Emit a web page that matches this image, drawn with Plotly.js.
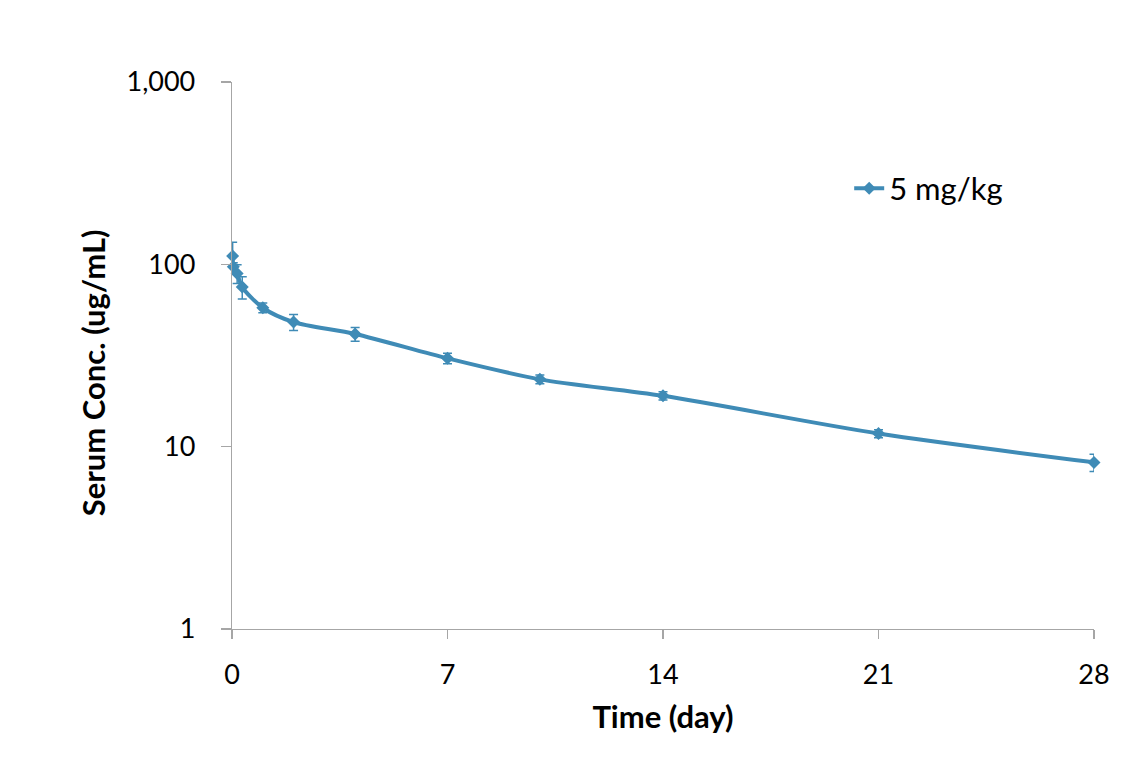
<!DOCTYPE html>
<html>
<head>
<meta charset="utf-8">
<script src="https://cdn.plot.ly/plotly-3.0.1.min.js"></script>
<style>html,body{margin:0;padding:0;background:#fff;}#chart{width:1143px;height:772px;}</style>
</head>
<body>
<div id="chart"></div>
<script>
// Data
const seriesName = "5 mg/kg";
const timeDays = [0.021, 0.042, 0.167, 0.333, 1, 2, 4, 7, 10, 14, 21, 28];
const serumConc = [111, 97, 89, 75, 57.8, 48.2, 41.5, 30.5, 23.4, 19.0, 11.8, 8.2];
const concSD = [21, 5, 10.5, 10.5, 3.5, 4.8, 3.6, 2.0, 1.3, 1.0, 0.6, 0.9];
const xTickVals = [0, 7, 14, 21, 28];
const yTickVals = [1, 10, 100, 1000];
const yTickText = ["1", "10", "100", "1,000"];
const xTitle = "Time (day)";
const yTitle = "Serum Conc. (ug/mL)";

const color = "#3f8bb6";
const axisColor = "#a6a6a6";
const fontFam = "Lato, 'Open Sans', sans-serif";

const trace = {
  x: timeDays,
  y: serumConc,
  name: seriesName,
  type: "scatter",
  mode: "lines+markers",
  line: {color: color, width: 4, shape: "spline", smoothing: 0.8},
  marker: {symbol: "diamond", size: 10, color: color},
  error_y: {type: "data", array: concSD, visible: true, color: color, thickness: 1.5, width: 4.5},
  cliponaxis: false
};

const layout = {
  width: 1143, height: 772,
  paper_bgcolor: "#fff", plot_bgcolor: "#fff",
  margin: {l: 232, r: 49, t: 82, b: 143},
  font: {family: fontFam, color: "#000", size: 27},
  showlegend: true,
  legend: {x: 0.716, y: 0.805, xanchor: "left", yanchor: "middle", font: {size: 31, family: fontFam}, bgcolor: "rgba(0,0,0,0)"},
  xaxis: {
    range: [0, 28], tickvals: xTickVals, ticks: "outside", ticklen: 9, tickcolor: axisColor, tickwidth: 1.3,
    showline: true, linecolor: axisColor, linewidth: 1.3, showgrid: false, zeroline: false,
    tickfont: {size: 27, family: fontFam}, ticklabelstandoff: 12,
    title: {text: "<b>" + xTitle + "</b>", font: {size: 31, family: fontFam}, standoff: 17}
  },
  yaxis: {
    type: "log", range: [0, 3], tickvals: yTickVals, ticktext: yTickText, ticks: "outside", ticklen: 10,
    tickcolor: axisColor, tickwidth: 1.3,
    showline: true, linecolor: axisColor, linewidth: 1.3, showgrid: false, zeroline: false,
    tickfont: {size: 27, family: fontFam}, ticklabelstandoff: 20
  },
  annotations: [{
    text: "<b>" + yTitle + "</b>", textangle: -90, showarrow: false,
    xref: "paper", yref: "paper", x: -0.161, y: 0.468, xanchor: "center", yanchor: "middle",
    font: {size: 31, family: fontFam, color: "#000"}
  }]
};

Plotly.newPlot("chart", [trace], layout, {displayModeBar: false, staticPlot: true});
</script>
</body>
</html>
